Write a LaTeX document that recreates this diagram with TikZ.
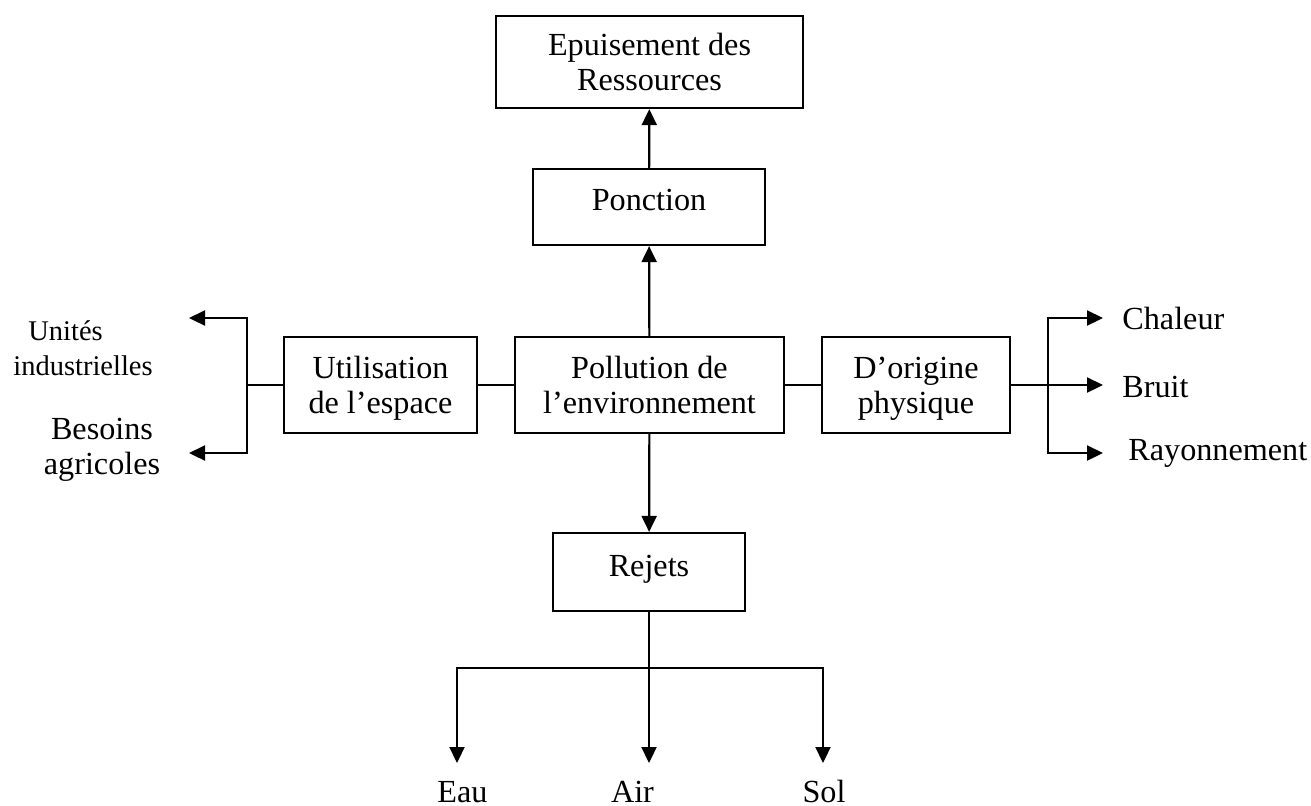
\documentclass[tikz,border=0pt]{standalone}
\usepackage{fontspec}
\setmainfont{Liberation Serif}
\usetikzlibrary{arrows.meta}
\begin{document}
\begin{tikzpicture}[x=0.5pt,y=-0.5pt,
  every node/.style={font=\fontsize{16.1}{17.5}\selectfont},
  box/.style={draw, line width=1.1pt, inner sep=0pt, align=center},
  link/.style={line width=1.1pt},
  arr/.style={line width=1.1pt, -{Triangle[length=8pt,width=7.5pt]}},
  lbl/.style={inner sep=0pt}]
\useasboundingbox (0,0) rectangle (1311,805);

% boxes
\node[box, minimum width=153.5pt, minimum height=46pt, text depth=0pt] (epu) at (649.5,62) {Epuisement des\\Ressources};
\node[box, minimum width=116pt, minimum height=38pt, text height=11pt, text depth=7.5pt] (pon) at (649,207) {Ponction};
\node[box, minimum width=134.5pt, minimum height=48pt, text depth=0pt] (pol) at (649.5,385) {Pollution de\\l’environnement};
\node[box, minimum width=96.5pt, minimum height=48pt, text depth=0pt] (uti) at (380.5,385) {Utilisation\\de l’espace};
\node[box, minimum width=94pt, minimum height=48pt, text depth=0pt] (phy) at (916,385) {D’origine\\physique};
\node[box, minimum width=96pt, minimum height=39pt, text height=11pt, text depth=6.5pt] (rej) at (649,572) {Rejets};

% branch points and arrow ends
\coordinate (lv) at (247,0);
\coordinate (lt) at (189,318);
\coordinate (lb) at (189,453);
\coordinate (rv) at (1048,0);
\coordinate (rt) at (1103,318);
\coordinate (rb) at (1103,453);
\coordinate (bj) at (649,668);
\coordinate (te) at (457,763);
\coordinate (ts) at (823,763);

% vertical chain
\draw[arr] (pon) -- (epu);
\draw[arr] (pol) -- (pon);
\draw[arr] (pol) -- (rej);
\draw[link] (pol.west) -- (pol.west -| uti.east);
\draw[link] (pol.east) -- (pol.east -| phy.west);

% left branch
\draw[link] (uti.west) -- (uti.west -| lv);
\draw[arr] (uti.west -| lv) |- (lt);
\draw[arr] (uti.west -| lv) |- (lb);

% right branch
\draw[arr] (phy.east) -- (phy.east -| rt);
\draw[arr] (phy.east -| rv) |- (rt);
\draw[arr] (phy.east -| rv) |- (rb);

% bottom branch
\draw[link] (rej.south) -- (rej.south |- bj);
\draw[arr] (rej.south |- bj) -| (te);
\draw[arr] (rej.south |- bj) -- (rej.south |- te);
\draw[arr] (rej.south |- bj) -| (ts);

% labels
\node[lbl, align=left, anchor=west, font=\fontsize{14.25}{17.5}\selectfont] (uni) at (13,348) {\hspace*{7.5pt}Unités\\industrielles};
\node[lbl, align=center] (bes) at (102,450) {Besoins\\agricoles};
\node[lbl, anchor=west] (cha) at (1122,318) {Chaleur};
\node[lbl, anchor=west] (bru) at (1122,387) {Bruit};
\node[lbl, anchor=west] (ray) at (1128,453) {Rayonnement};
\node[lbl, anchor=base] (eau) at (462.5,802) {Eau};
\node[lbl, anchor=base] (air) at (632.5,802) {Air};
\node[lbl, anchor=base] (sol) at (824,802) {Sol};
\end{tikzpicture}
\end{document}
